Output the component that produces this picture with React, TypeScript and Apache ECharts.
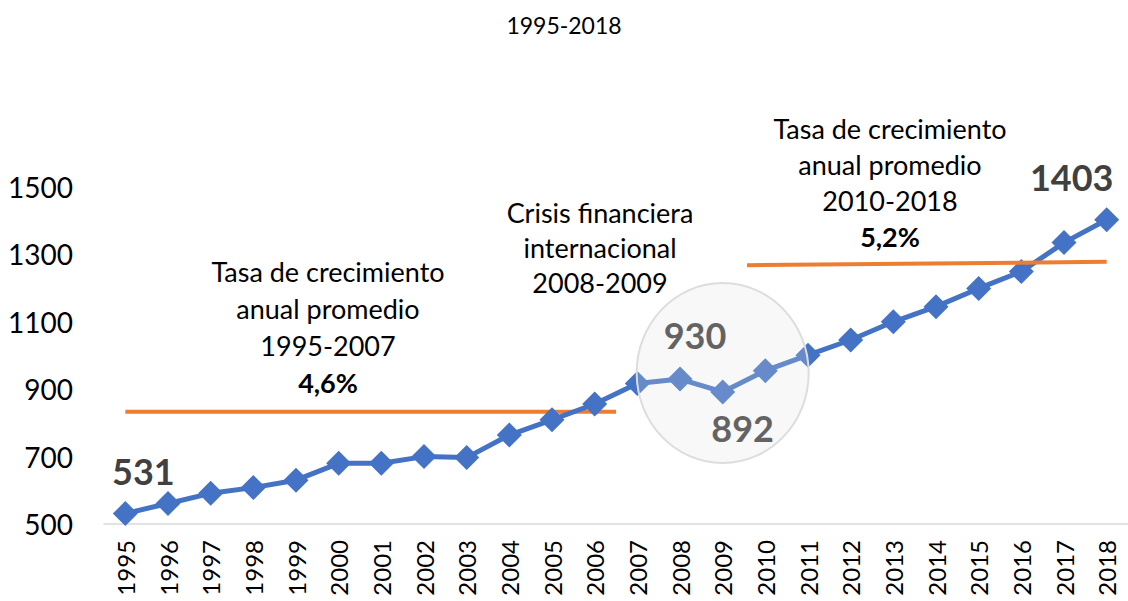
import React, { useEffect, useRef } from "react";
import * as echarts from "echarts";

const years = [
  "1995", "1996", "1997", "1998", "1999", "2000", "2001", "2002", "2003", "2004", "2005", "2006",
  "2007", "2008", "2009", "2010", "2011", "2012", "2013", "2014", "2015", "2016", "2017", "2018",
];
const values = [
  531, 561, 591, 608, 630, 680, 680, 700, 697, 764, 809, 856,
  917, 930, 892, 955, 1001, 1046, 1100, 1145, 1199, 1249, 1335, 1403,
];
// Average-growth reference lines: [category index, value]
const trend1 = [[0, 833], [11.5, 833]];
const trend2 = [[14.57, 1268], [23, 1278]];
const yMin = 500;
const yMax = 1500;
const yStep = 200;
const titleText = "1995-2018";
const note1 = ["Tasa de crecimiento", "anual promedio", "1995-2007"];
const note1Bold = "4,6%";
const note2 = ["Tasa de crecimiento", "anual promedio", "2010-2018"];
const note2Bold = "5,2%";
const note3 = ["Crisis financiera", "internacional", "2008-2009"];
// highlighted points: index -> label placement
const highlighted: Record<number, { pos: string; off: [number, number] }> = {
  0: { pos: "top", off: [18, -7] },
  13: { pos: "top", off: [15, -9] },
  14: { pos: "bottom", off: [20, 1] },
  23: { pos: "top", off: [-35, -7] },
};
const crisisCenter = [14, 948];

const FONT = "Lato";

export default function App() {
  const ref = useRef<HTMLDivElement>(null);
  useEffect(() => {
    if (!ref.current) return;
    const chart = echarts.init(ref.current, undefined, { renderer: "svg" });
    const lineData = values.map((v, i) => {
      const h = highlighted[i];
      if (!h) return v;
      return {
        value: v,
        label: {
          show: true,
          position: h.pos,
          offset: h.off,
          fontFamily: FONT,
          fontWeight: "bold",
          fontSize: 36,
          color: "#404040",
          formatter: "{c}",
        },
      };
    });
    chart.setOption({
      animation: false,
      title: {
        text: titleText,
        left: "center",
        top: 8,
        textStyle: { fontFamily: FONT, fontSize: 23, fontWeight: "normal", color: "#000" },
      },
      grid: { left: 104, width: 1030, top: 187, bottom: 77 },
      xAxis: [
        {
          type: "category",
          data: years,
          boundaryGap: true,
          axisLine: { show: true, lineStyle: { color: "#D9D9D9", width: 1.5 } },
          axisTick: { show: false },
          axisLabel: { rotate: 90, fontFamily: FONT, fontSize: 24, color: "#000", margin: 16, interval: 0 },
        },
        { type: "value", min: -0.5, max: 23.5, show: false },
      ],
      yAxis: {
        type: "value",
        min: yMin,
        max: yMax,
        interval: yStep,
        axisLine: { show: false },
        axisTick: { show: false },
        splitLine: { show: false },
        axisLabel: {
          fontFamily: FONT,
          fontSize: 28,
          color: "#000",
          margin: 31,
          formatter: (v: number) => String(v),
        },
      },
      series: [
        {
          type: "line",
          xAxisIndex: 1,
          data: trend1,
          symbol: "none",
          lineStyle: { color: "#ED7D31", width: 4 },
          z: 1,
        },
        {
          type: "line",
          xAxisIndex: 1,
          data: trend2,
          symbol: "none",
          lineStyle: { color: "#ED7D31", width: 4 },
          z: 3,
        },
        {
          type: "line",
          data: lineData,
          symbol: "diamond",
          symbolSize: 25,
          itemStyle: { color: "#4472C4" },
          lineStyle: { color: "#4472C4", width: 5 },
          z: 2,
        },
      ],
    });
    const c = chart.convertToPixel({ xAxisIndex: 0, yAxisIndex: 0 }, crisisCenter as any) as number[];
    const textBlock = (lines: string[], bold: string | null, cx: number, y0: number, pitch: number) => {
      const els: any[] = lines.map((t, i) => ({
        type: "text",
        x: cx,
        y: y0 + i * pitch,
        style: {
          text: t,
          fontFamily: FONT,
          fontSize: 27,
          fill: "#000",
          textAlign: "center",
          textVerticalAlign: "middle",
        },
        z: 50,
      }));
      if (bold) {
        els.push({
          type: "text",
          x: cx,
          y: y0 + lines.length * pitch,
          style: {
            text: bold,
            fontFamily: FONT,
            fontSize: 27,
            fontWeight: "bold",
            fill: "#000",
            textAlign: "center",
            textVerticalAlign: "middle",
          },
          z: 50,
        });
      }
      return els;
    };
    chart.setOption({
      graphic: [
        {
          type: "ellipse",
          shape: { cx: c[0], cy: c[1], rx: 86, ry: 90 },
          style: { fill: "rgba(225,225,225,0.22)", stroke: "#DDDDDD", lineWidth: 2 },
          z: 100,
        },
        ...textBlock(note1, note1Bold, 328, 271, 37),
        ...textBlock(note3, null, 600, 212, 35),
        ...textBlock(note2, note2Bold, 890, 128, 36),
      ],
    });
    return () => chart.dispose();
  }, []);
  return (
    <div
      ref={ref}
      style={{ position: "absolute", left: 0, top: 0, width: 1128, height: 601, background: "#fff" }}
    />
  );
}
